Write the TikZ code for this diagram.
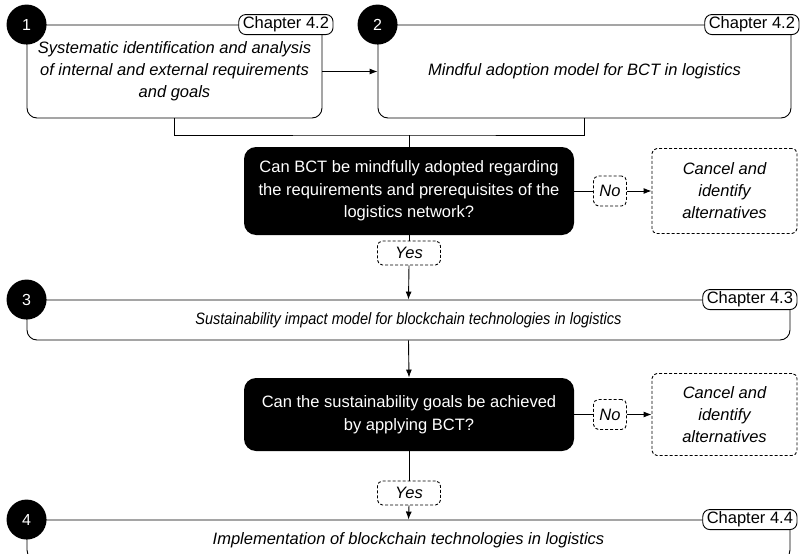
\documentclass[tikz,border=0pt]{standalone}
\usepackage{graphicx}
\usepackage{fontspec}
\setmainfont{Liberation Sans}
\usetikzlibrary{arrows.meta}

\begin{document}
\begin{tikzpicture}[
    x=1pt, y=-1pt,
    line width=0.9pt,
    stage/.style = {draw, rounded corners=10pt, align=center,
                    font=\fontsize{16.5}{22}\selectfont\itshape},
    num/.style   = {circle, fill=black, text=white, minimum size=40pt,
                    inner sep=0pt, font=\fontsize{16}{18}\selectfont},
    chap/.style  = {draw, fill=white, rounded corners=7pt, minimum height=20pt,
                    inner xsep=4pt, inner ysep=0pt, anchor=east,
                    font=\fontsize{16.5}{18}\selectfont},
    query/.style = {fill=black, text=white, rounded corners=12pt, align=center,
                    minimum width=330pt, font=\fontsize{16.5}{22.5}\selectfont},
    answer/.style = {draw, dashed, dash pattern=on 3pt off 2pt, rounded corners=5pt,
                    inner sep=0pt, font=\fontsize{16.5}{18}\selectfont\itshape},
    arr/.style   = {-{Latex[length=8pt,width=6pt]}}
  ]

    \useasboundingbox (0,0) rectangle (801,554);
    \clip (0,0) rectangle (801,554);

    %% ---- Stages 1 and 2 ----
    \node[stage, minimum width=295pt, minimum height=93pt] (s1) at (174.5,71.5)
      {Systematic identification and analysis\\of internal and external requirements\\and goals};
    \node[stage, minimum width=413pt, minimum height=93pt] (s2) at (584.5,71.5)
      {Mindful adoption model for BCT in logistics};

    \node[num] (n1) at (s1.north west) {1};
    \node[num] (n2) at (s2.north west) {2};
    \node[chap] (t1) at ([xshift=11pt]s1.north east) {Chapter 4.2};
    \node[chap] (t2) at ([xshift=8pt]s2.north east) {Chapter 4.2};

    \draw[arr] (s1.east) -- (s2.west);

    \coordinate (join) at (409,135);
    \draw (s1.south) |- (join) -| (s2.south);

    %% ---- First question ----
    \node[query, minimum height=88pt] (q1) at (409,191)
      {Can BCT be mindfully adopted regarding\\the requirements and prerequisites of the\\logistics network?};
    \node[answer, minimum width=33pt, minimum height=30pt] (no1) at (610,191) {No};
    \node[answer, minimum width=145pt, minimum height=85pt, align=center,
          font=\fontsize{16.5}{22}\selectfont\itshape] (c1) at (724.5,191)
      {Cancel and\\identify\\alternatives};
    \node[answer, minimum width=63pt, minimum height=24pt] (yes1) at (409,253) {Yes};

    \draw (join) -- (q1.north);
    \draw (q1.east) -- (no1.west);
    \draw[arr] (no1.east) -- (c1.west);
    \draw (q1.south) -- (yes1.north);

    %% ---- Stage 3 ----
    \node[stage, minimum width=763pt, minimum height=40pt] (s3) at (408.5,320)
      {\scalebox{0.88}[1]{Sustainability impact model for blockchain technologies in logistics}};
    \node[num] (n3) at (s3.north west) {3};
    \node[chap] (t3) at ([xshift=7pt]s3.north east) {Chapter 4.3};

    \draw[arr] (yes1.south) -- (s3.north);

    %% ---- Second question ----
    \node[query, minimum height=73pt] (q2) at (409,414.5)
      {Can the sustainability goals be achieved\\by applying BCT?};
    \node[answer, minimum width=33pt, minimum height=30pt] (no2) at (610,414.5) {No};
    \node[answer, minimum width=145pt, minimum height=82pt, align=center,
          font=\fontsize{16.5}{22}\selectfont\itshape] (c2) at (724.5,414.5)
      {Cancel and\\identify\\alternatives};
    \node[answer, minimum width=63pt, minimum height=24pt] (yes2) at (409,493) {Yes};

    \draw[arr] (s3.south) -- (q2.north);
    \draw (q2.east) -- (no2.west);
    \draw[arr] (no2.east) -- (c2.west);
    \draw (q2.south) -- (yes2.north);

    %% ---- Stage 4 (runs past the lower edge) ----
    \node[stage, minimum width=763pt, minimum height=40pt] (s4) at (408.5,540)
      {Implementation of blockchain technologies in logistics};
    \node[num] (n4) at (s4.north west) {4};
    \node[chap] (t4) at ([xshift=7pt]s4.north east) {Chapter 4.4};

    \draw[arr] (yes2.south) -- (s4.north);
  \end{tikzpicture}
\end{document}
